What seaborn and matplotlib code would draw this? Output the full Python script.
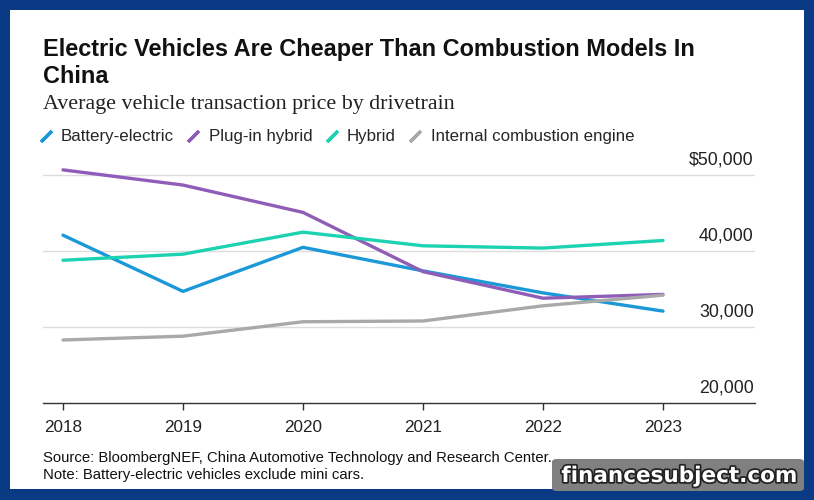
import matplotlib
matplotlib.use("Agg")
import matplotlib.pyplot as plt
import matplotlib.patheffects as pe
from matplotlib.lines import Line2D
from matplotlib.patches import Rectangle, FancyBboxPatch
import seaborn as sns
import pandas as pd

years = [2018, 2019, 2020, 2021, 2022, 2023]
battery_electric = [42100, 34700, 40500, 37400, 34500, 32100]
plug_in_hybrid = [50700, 48700, 45100, 37300, 33800, 34300]
hybrid = [38800, 39600, 42500, 40700, 40400, 41400]
ice = [28300, 28800, 30700, 30800, 32800, 34200]

series_names = ["Battery-electric", "Plug-in hybrid", "Hybrid", "Internal combustion engine"]
colors = ["#1b98d8", "#8f5db7", "#1dd2b0", "#a9a9a9"]
y_ticks = [20000, 30000, 40000, 50000]
y_tick_labels = ["20,000", "30,000", "40,000", "$50,000"]

df = pd.DataFrame({
    "year": years * 4,
    "price": battery_electric + plug_in_hybrid + hybrid + ice,
    "drivetrain": [n for n in series_names for _ in years],
})

sns.set_theme(style="white")
plt.rcParams["font.family"] = ["Liberation Sans", "DejaVu Sans"]

W, H = 814, 500
fig = plt.figure(figsize=(W / 100, H / 100), dpi=100)

# blue frame + white panel
fig.patches.append(Rectangle((0, 0), 1, 1, transform=fig.transFigure,
                             facecolor="#0b3a84", edgecolor="none", zorder=-2))
fig.patches.append(Rectangle((10 / W, 1 - 489 / H), 794 / W, 479 / H,
                             transform=fig.transFigure, facecolor="white",
                             edgecolor="none", zorder=-1))

ax = fig.add_axes([43 / W, 1 - 403 / H, 712 / W, 243 / H])
ax.set_facecolor("none")

sns.lineplot(data=df, x="year", y="price", hue="drivetrain", palette=colors,
             hue_order=series_names, linewidth=2.4, ax=ax, legend=False)

ax.set_xlim(2018 - 20 / 120, 2023 + 92 / 120)
ax.set_ylim(20000, 52000)
ax.set_xticks(years)
ax.set_xticklabels([str(y) for y in years], fontsize=12.3, color="#222222")
ax.set_yticks([])
ax.set_xlabel("")
ax.set_ylabel("")
for s in ["top", "right", "left"]:
    ax.spines[s].set_visible(False)
ax.spines["bottom"].set_color("#333333")
ax.spines["bottom"].set_linewidth(1)
ax.tick_params(axis="x", bottom=True, length=5, width=1, color="#333333", pad=7)

for v, lab in zip(y_ticks, y_tick_labels):
    if v != 20000:
        ax.axhline(v, color="#dcdcdc", linewidth=1, zorder=0)
    ax.annotate(lab, xy=(1, v), xycoords=("axes fraction", "data"),
                xytext=(-1, 5), textcoords="offset points", ha="right",
                va="bottom", fontsize=12.8, color="#222222")

# titles
fig.text(43 / W, 1 - 38 / H, "Electric Vehicles Are Cheaper Than Combustion Models In\nChina",
         fontsize=16.9, fontweight="bold", va="top", ha="left", color="#111111",
         linespacing=1.2)
fig.text(43 / W, 1 - 95 / H, "Average vehicle transaction price by drivetrain",
         fontsize=15.8, family=["Liberation Serif", "DejaVu Serif"], va="top",
         ha="left", color="#222222")

# legend
handles = [Line2D([], [], linestyle="None", marker=(2, 2, -45), markersize=11,
                  markeredgewidth=2.4, markeredgecolor=c) for c in colors]
fig.legend(handles, series_names, loc="center left",
           bbox_to_anchor=(38 / W, 1 - 137 / H), ncol=4, frameon=False,
           fontsize=12.2, handlelength=0.9, handletextpad=0.45, columnspacing=0.7,
           borderaxespad=0, borderpad=0)

# footer
fig.text(43 / W, 1 - 458 / H, "Source: BloombergNEF, China Automotive Technology and Research Center.",
         fontsize=10.7, va="center", ha="left", color="#111111")
fig.text(43 / W, 1 - 475 / H, "Note: Battery-electric vehicles exclude mini cars.",
         fontsize=10.7, va="center", ha="left", color="#111111")

# watermark
fig.patches.append(FancyBboxPatch((552 / W, 1 - 491 / H), 252 / W, 32 / H,
                                  boxstyle="round,pad=0,rounding_size=0.006",
                                  transform=fig.transFigure, facecolor="#808080",
                                  edgecolor="none", zorder=5))
t = fig.text(679 / W, 1 - 476 / H, "financesubject.com", fontsize=15.5,
             fontweight="bold", family=["DejaVu Sans"], color="white",
             ha="center", va="center", zorder=6)
t.set_path_effects([pe.withStroke(linewidth=2.5, foreground="#222222")])

fig.savefig("out.png", dpi=100)
